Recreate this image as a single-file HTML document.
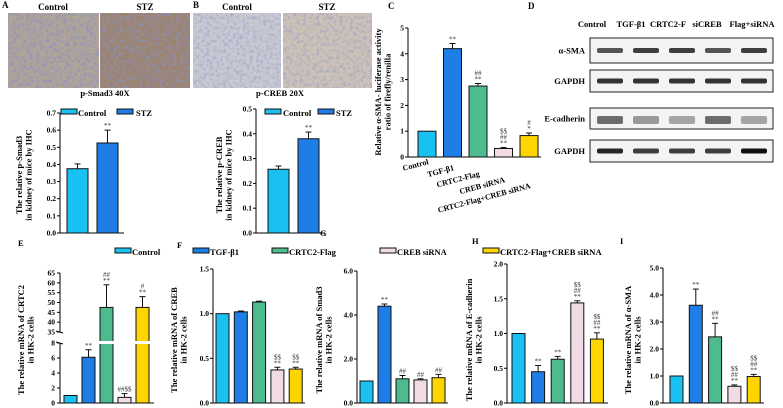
<!DOCTYPE html>
<html><head><meta charset="utf-8"><style>
html,body{margin:0;padding:0;background:#fff;}
svg{display:block;font-family:"Liberation Serif",serif;font-weight:bold;}
</style></head><body>
<svg id="fig" width="783" height="408" viewBox="0 0 783 408" xmlns="http://www.w3.org/2000/svg">
<defs>
<filter id="noise" x="0" y="0" width="1" height="1"><feTurbulence type="fractalNoise" baseFrequency="0.3" numOctaves="2" seed="3"/><feColorMatrix type="matrix" values="0 0 0 0 0.25  0 0 0 0 0.28  0 0 0 0 0.55  0 0 0 2.2 -0.95"/><feComposite in2="SourceGraphic" operator="in"/></filter>
</defs>
<g>
<text x="2" y="8" font-size="9">A</text>
<text x="53" y="10" font-size="9" text-anchor="middle">Control</text>
<text x="145" y="10" font-size="9" text-anchor="middle">STZ</text>
<rect x="8" y="13" width="91" height="75" fill="#b0a498"/>
<rect x="8" y="13" width="91" height="75" fill="#fff" filter="url(#noise)"/>
<rect x="100" y="13" width="90" height="75" fill="#9c8470"/>
<rect x="100" y="13" width="90" height="75" fill="#fff" filter="url(#noise)"/>
<text x="105" y="96" font-size="8.5" text-anchor="middle">p-Smad3  40X</text>
</g>
<g>
<text x="193" y="8" font-size="9">B</text>
<text x="237" y="10" font-size="9" text-anchor="middle">Control</text>
<text x="327" y="10" font-size="9" text-anchor="middle">STZ</text>
<rect x="193" y="13" width="88" height="75" fill="#c8cad2"/>
<rect x="193" y="13" width="88" height="75" fill="#fff" filter="url(#noise)" opacity="0.6"/>
<rect x="283" y="13" width="89" height="75" fill="#cdc2b8"/>
<rect x="283" y="13" width="89" height="75" fill="#fff" filter="url(#noise)" opacity="0.6"/>
<text x="280" y="96" font-size="8.5" text-anchor="middle">p-CREB   20X</text>
</g>
<g id="blots">
<text x="528" y="9" font-size="9">D</text>
<text x="592" y="27" font-size="8.5" text-anchor="middle">Control</text>
<text x="631" y="27" font-size="8.5" text-anchor="middle">TGF-β1</text>
<text x="668" y="27" font-size="8.5" text-anchor="middle">CRTC2-F</text>
<text x="707" y="27" font-size="8.5" text-anchor="middle">siCREB</text>
<text x="752" y="27" font-size="8.5" text-anchor="middle">Flag+siRNA</text>
</g>
<g id="charts"></g>
</svg>
<script>
// ---- data ----
const groupsA = ["Control","STZ"];
const valuesA = [0.375,0.525];
const errA = [0.028,0.075];
const ticksA = [0.0,0.1,0.2,0.3,0.4,0.5,0.6,0.7];
const valuesB = [0.257,0.38];
const errB = [0.013,0.027];
const ticksB = [0.0,0.1,0.2,0.3,0.4,0.5];
const groups5 = ["Control","TGF-β1","CRTC2-Flag","CREB siRNA","CRTC2-Flag+CREB siRNA"];
const valuesC = [1,4.2,2.75,0.33,0.83];
const errC = [0,0.2,0.1,0.04,0.1];
const ticksC = [0,1,2,3,4,5];
const annC = [[],["**"],["**","##"],["**","##","$$"],["*","#"]];
const valuesE = [1,6.1,47.5,0.75,47.5];
const errE = [0,1,11.5,0.5,5.5];
const ticksELow = [0,2,4,6,8];
const ticksEHigh = [35,40,45,50,55,60,65];
const annE = [[],["**"],["**","##"],["##$$"],["**","#"]];
const valuesF = [1.0,1.02,1.13,0.37,0.38];
const errF = [0,0.01,0.01,0.03,0.02];
const ticksF = [0.0,0.5,1.0,1.5];
const annF = [[],[],[],["**","$$"],["**","$$"]];
const valuesG = [1,4.4,1.1,1.05,1.15];
const errG = [0,0.1,0.15,0.05,0.15];
const ticksG = [0.0,2.0,4.0,6.0];
const annG = [[],["**"],["##"],["##"],["##"]];
const valuesH = [1,0.45,0.63,1.44,0.92];
const errH = [0,0.09,0.04,0.03,0.09];
const ticksH = [0.0,0.5,1.0,1.5,2.0];
const annH = [[],["**"],["**"],["**","##","$$"],["**","##","$$"]];
const valuesI = [1,3.62,2.45,0.62,0.98];
const errI = [0,0.6,0.5,0.05,0.08];
const ticksI = [0.0,1.0,2.0,3.0,4.0,5.0];
const annI = [[],["**"],["**","##"],["**","##","$$"],["**","##","$$"]];
const blotRows = ["α-SMA","GAPDH","E-cadherin","GAPDH"];
const blotIntensity = [[0.7,0.8,0.8,0.7,0.8],[0.85,0.85,0.85,0.85,0.85],[0.6,0.4,0.35,0.6,0.35],[0.9,0.8,0.8,0.8,1.0]];

const colors = ["#19c1f2","#1f7de8","#4dbb8e","#f1dbe5","#ffd500"];
const NS = "http://www.w3.org/2000/svg";
const root = document.getElementById("charts");
function el(tag, attrs, parent, text){
  const e = document.createElementNS(NS, tag);
  for (const k in attrs) e.setAttribute(k, attrs[k]);
  if (text !== undefined) e.textContent = text;
  (parent||root).appendChild(e);
  return e;
}
function fmt(v, d){ return d ? v.toFixed(d) : String(v); }

function chart(o){
  const g = el("g", {});
  
  
  const y = v => o.y0 - (v - o.min) / (o.max - o.min) * (o.y0 - o.y1);
  el("line",{x1:o.ax,y1:o.y0,x2:o.ax,y2:o.y1,stroke:"#000","stroke-width":1},g);
  el("line",{x1:o.ax,y1:o.y0,x2:o.axEnd,y2:o.y0,stroke:"#000","stroke-width":1},g);
  o.ticks.forEach(t=>{
    const yy = y(t);
    el("line",{x1:o.ax-3,y1:yy,x2:o.ax,y2:yy,stroke:"#000"},g);
    const tx = el("text",{x:o.ax-4,y:yy+2.5,"font-size":7.5,"text-anchor":"end"},g,fmt(t,o.dec));
    
    
  });
  o.values.forEach((v,i)=>{
    const bx = o.bx0 + i*o.step, bw = o.bw;
    const r = el("rect",{x:bx,y:y(v),width:bw,height:o.y0-y(v),fill:o.colors[i],stroke:"#111","stroke-width":1},g);
    
    
    const e = o.err[i];
    if (e>0){
      el("line",{x1:bx+bw/2,y1:y(v),x2:bx+bw/2,y2:y(v+e),stroke:"#111"},g);
      el("line",{x1:bx+bw/2-3,y1:y(v+e),x2:bx+bw/2+3,y2:y(v+e),stroke:"#111"},g);
    }
    const ann = (o.ann||[])[i]||[];
    ann.forEach((a,k)=>{
      el("text",{x:bx+bw/2,y:y(v+e)-2-k*6,"font-size":7,"text-anchor":"middle",fill:"#333","font-weight":"normal"},g,a);
    });
  });
  const lbl = el("text",{transform:`translate(${o.lx},${o.ly}) rotate(-90)`,"font-size":8.5,"text-anchor":"middle"},g);
  
  
  o.label.forEach((l,k)=>el("tspan",{x:0,dy:k?9.5:0},lbl,l));
  return {g,y};
}

chart({name:"chart-a",ax:60,axEnd:124,y0:233,y1:113,min:0,max:0.7,ticks:ticksA,dec:1,values:valuesA,err:errA,
  bx0:67,step:30,bw:21,colors:[colors[0],colors[1]],ann:[[],["**"]],lx:22,ly:175,
  label:["The relative p-Smad3","in kidney of mice by IHC"]});
chart({name:"chart-b",ax:256,axEnd:325,y0:233,y1:109,min:0,max:0.5,ticks:ticksB,dec:1,values:valuesB,err:errB,
  bx0:268,step:30,bw:21,colors:[colors[0],colors[1]],ann:[[],["**"]],lx:222,ly:175,
  label:["The relative p-CREB","in kidney of mice by IHC"]});
// legends A/B
[[61,78,"Control",0],[117,136,"STZ",1],[265,283,"Control",0],[318,336,"STZ",1]].forEach(([bx,tx,t,c])=>{
  const r = el("rect",{x:bx,y:109,width:16,height:5,fill:colors[c],stroke:"#111"});
   
  el("text",{x:tx,y:116,"font-size":8.5},undefined,t);
});

const cC = chart({name:"chart-c",ax:408,axEnd:541,y0:157,y1:28,min:0,max:5,ticks:ticksC,dec:0,values:valuesC,err:errC,
  bx0:418,step:25.5,bw:18,colors:colors,ann:annC,lx:381,ly:92,
  label:["Relative α-SMA- luciferase activity","ratio of firefly/renilla"]});
groups5.forEach((gname,i)=>{
  const x = 429 + i*25.5;
  el("text",{transform:`translate(${x},${164+i*6}) rotate(-15)`,"font-size":8,"text-anchor":"end"},cC.g,gname);
});
el("text",{x:388,y:9,"font-size":9},undefined,"C");

// E with broken axis
(function(){
  const g = el("g",{});
  
  
  const ax=60, y0=403, yLow=343, yHiB=332, yHiT=273;
  const yl = v => y0 - v/8*(y0-yLow);
  const yh = v => yHiB - (v-35)/30*(yHiB-yHiT);
  const yv = v => v<=8 ? yl(v) : (v<35 ? yHiB+4 : yh(v));
  el("line",{x1:ax,y1:y0,x2:ax,y2:yLow,stroke:"#000"},g);
  el("line",{x1:ax,y1:yHiB,x2:ax,y2:yHiT,stroke:"#000"},g);
  el("line",{x1:ax,y1:y0,x2:154,y2:y0,stroke:"#000"},g);
  el("line",{x1:ax-4,y1:yLow-1,x2:ax+3,y2:yLow+1,stroke:"#000"},g);
  el("line",{x1:ax-4,y1:yHiB-1,x2:ax+3,y2:yHiB+1,stroke:"#000"},g);
  ticksELow.forEach(t=>{el("line",{x1:ax-3,y1:yl(t),x2:ax,y2:yl(t),stroke:"#000"},g);el("text",{x:ax-5,y:yl(t)+2.5,"font-size":7.5,"text-anchor":"end"},g,t);});
  ticksEHigh.forEach(t=>{el("line",{x1:ax-3,y1:yh(t),x2:ax,y2:yh(t),stroke:"#000"},g);el("text",{x:ax-5,y:yh(t)+2.5,"font-size":7.5,"text-anchor":"end"},g,t);});
  valuesE.forEach((v,i)=>{
    const bx=64+i*18, bw=13;
    const r = el("rect",{x:bx,y:yv(v),width:bw,height:y0-yv(v),fill:colors[i],stroke:"#111"},g);
    
    
    if (v>8) el("rect",{x:bx-1,y:yLow-2,width:bw+2,height:yHiB-yLow+14,fill:"#fff"},g);
    const e=errE[i];
    if(e>0){el("line",{x1:bx+bw/2,y1:yv(v),x2:bx+bw/2,y2:yv(v+e),stroke:"#111"},g);
      el("line",{x1:bx+bw/2-3,y1:yv(v+e),x2:bx+bw/2+3,y2:yv(v+e),stroke:"#111"},g);}
    annE[i].forEach((a,k)=>el("text",{x:bx+bw/2,y:yv(v+e)-2-k*6,"font-size":7,"text-anchor":"middle",fill:"#333","font-weight":"normal"},g,a));
  });
  const lbl = el("text",{transform:`translate(24,340) rotate(-90)`,"font-size":8.5,"text-anchor":"middle"},g);
  el("tspan",{x:0,dy:0},lbl,"The relative mRNA of CRTC2");
  el("tspan",{x:0,dy:9.5},lbl,"in HK-2 cells");
})();

chart({name:"chart-f",ax:213,axEnd:305,y0:403,y1:269,min:0,max:1.5,ticks:ticksF,dec:1,values:valuesF,err:errF,
  bx0:216,step:18.3,bw:13,colors:colors,ann:annF,lx:177,ly:340,label:["The relative mRNA of CREB","in HK-2 cells"]});
chart({name:"chart-g",ax:357,axEnd:448,y0:403,y1:271,min:0,max:6,ticks:ticksG,dec:1,values:valuesG,err:errG,
  bx0:360,step:18,bw:13,colors:colors,ann:annG,lx:322,ly:340,label:["The relative mRNA of Smad3","in HK-2 cells"]});
chart({name:"chart-h",ax:507,axEnd:608,y0:403,y1:264,min:0,max:2,ticks:ticksH,dec:1,values:valuesH,err:errH,
  bx0:512,step:19.6,bw:13,colors:colors,ann:annH,lx:472,ly:340,label:["The relative mRNA of E-cadherin","in HK-2 cells"]});
chart({name:"chart-i",ax:663,axEnd:764,y0:403,y1:268,min:0,max:5,ticks:ticksI,dec:1,values:valuesI,err:errI,
  bx0:670,step:19.3,bw:13,colors:colors,ann:annI,lx:631,ly:340,label:["The relative mRNA of α-SMA","in HK-2 cells"]});

// bottom legend
[[115,132,"Control",0],[193,210,"TGF-β1",1],[272,289,"CRTC2-Flag",2],[380,397,"CREB siRNA",3],[483,500,"CRTC2-Flag+CREB siRNA",4]].forEach(([bx,tx,t,c])=>{
  const r = el("rect",{x:bx,y:248,width:16,height:5,fill:colors[c],stroke:"#111"});
  
  
  el("text",{x:tx,y:255,"font-size":8.5},undefined,t);
});
[["E",18,246],["F",177,248],["G",320,236],["H",472,244],["I",620,244]].forEach(([t,x,yy])=>el("text",{x:x,y:yy,"font-size":8.5},undefined,t));

// blots
const bl = document.getElementById("blots");
const boxes = [[38,25],[70,22],[108,21],[140,22]];
blotRows.forEach((name,r)=>{
  const [by,bh] = boxes[r];
  el("text",{x:585,y:by+bh/2+3,"font-size":8.5,"text-anchor":"end"},bl,name);
  const box = el("rect",{x:590,y:by,width:183,height:bh,fill:"#f4f4f4",stroke:"#222","stroke-width":1},bl);
  
  
  blotIntensity[r].forEach((a,i)=>{
    el("rect",{x:597+i*36,y:by+bh/2-2.5,width:26,height:5+(r===2?3:0),rx:2,fill:"#111",opacity:a},bl);
  });
});
</script>
</body></html>
